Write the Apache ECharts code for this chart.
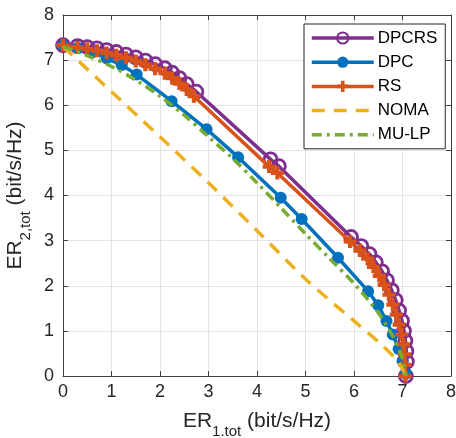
<!DOCTYPE html>
<html>
<head>
<meta charset="utf-8">
<script src="https://cdn.jsdelivr.net/npm/echarts@6/dist/echarts.min.js"></script>
<style>
html,body{margin:0;padding:0;background:#fff;}
#c{width:456px;height:438px;}
</style>
</head>
<body>
<div id="c"></div>
<script>
const seriesNames = ['DPCRS', 'DPC', 'RS', 'NOMA', 'MU-LP'];
const axisTicks = [0, 1, 2, 3, 4, 5, 6, 7, 8];

const dpcrsX = [0, 0.3, 0.5, 0.7, 0.9, 1.1, 1.3, 1.5, 1.7, 1.9, 2.1, 2.25, 2.4, 2.55, 2.75,
  4.28, 4.45,
  5.94, 6.15, 6.32, 6.45, 6.58, 6.68, 6.78, 6.86, 6.93, 6.99, 7.03, 7.06, 7.08, 7.09, 7.07];
const dpcrsY = [7.33, 7.31, 7.29, 7.26, 7.22, 7.18, 7.12, 7.06, 6.99, 6.91, 6.82, 6.72, 6.6, 6.47, 6.3,
  4.8, 4.65,
  3.08, 2.88, 2.7, 2.52, 2.32, 2.12, 1.9, 1.68, 1.45, 1.22, 1.0, 0.78, 0.55, 0.32, 0];

const dpcX = [0, 0.3, 0.6, 0.9, 1.21, 1.52, 2.24, 2.96, 3.61, 4.49, 4.92, 5.67, 6.29, 6.5, 6.67, 6.8, 6.92, 7.0, 7.07];
const dpcY = [7.33, 7.27, 7.17, 7.04, 6.89, 6.68, 6.09, 5.47, 4.85, 3.95, 3.48, 2.62, 1.88, 1.57, 1.22, 0.92, 0.6, 0.33, 0.05];

const rsX = [0, 0.3, 0.5, 0.7, 0.9, 1.1, 1.3, 1.5, 1.7, 1.9, 2.1, 2.25, 2.4, 2.55, 2.7,
  4.25, 4.42,
  5.92, 6.12, 6.28, 6.4, 6.52, 6.62, 6.72, 6.8, 6.87, 6.93, 6.98, 7.02, 7.04, 7.05, 7.06];
const rsY = [7.33, 7.28, 7.25, 7.21, 7.16, 7.11, 7.05, 6.98, 6.9, 6.81, 6.71, 6.6, 6.48, 6.35, 6.2,
  4.64, 4.5,
  2.98, 2.78, 2.6, 2.42, 2.22, 2.02, 1.8, 1.58, 1.36, 1.14, 0.92, 0.7, 0.48, 0.25, 0];

const nomaX = [0, 1, 2, 3, 4, 5, 6, 6.5, 6.9, 7.07];
const nomaY = [7.3, 6.3, 5.3, 4.28, 3.22, 2.15, 1.22, 0.76, 0.33, 0];

const mulpX = [0, 0.5, 1, 1.5, 2, 2.5, 3, 3.5, 4, 4.5, 5, 5.5, 6, 6.5, 6.8, 7.0, 7.07];
const mulpY = [7.3, 7.1, 6.86, 6.56, 6.2, 5.78, 5.3, 4.82, 4.28, 3.72, 3.15, 2.6, 2.05, 1.4, 0.88, 0.38, 0];

const colors = ['#7E2F8E', '#0072BD', '#D95319', '#EDB120', '#77AC30'];
const FONT = '"Liberation Sans", Arial, Helvetica, sans-serif';
const TXT = '#262626';
const plusPath = 'path://M3.4,0H6.6V3.4H10V6.6H6.6V10H3.4V6.6H0V3.4H3.4Z';
const LW = 3.5;

function zip(xs, ys) { return xs.map((x, i) => [x, ys[i]]); }

const chart = echarts.init(document.getElementById('c'), null, {renderer: 'canvas'});

const axisCommon = {
  min: axisTicks[0], max: axisTicks[axisTicks.length - 1], interval: 1,
  axisLine: {show: true, onZero: false, lineStyle: {color: '#404040', width: 1}},
  axisTick: {show: true, inside: true, length: 5, lineStyle: {color: '#404040', width: 1}},
};

const richName = {
  a: {fontFamily: FONT, fontSize: 21, color: TXT, verticalAlign: 'top', lineHeight: 24},
  b: {fontFamily: FONT, fontSize: 15, color: TXT, verticalAlign: 'top', lineHeight: 18, padding: [13, 0, 0, 0]}
};

const option = {
  animation: false,
  backgroundColor: '#fff',
  grid: {left: 63, right: 5, top: 15, bottom: 62, containLabel: false, outerBoundsMode: 'none'},
  legend: {
    orient: 'vertical',
    left: 304, top: 24,
    data: [
      {name: seriesNames[0], lineStyle: {width: LW}},
      {name: seriesNames[1], lineStyle: {width: LW}},
      {name: seriesNames[2], lineStyle: {width: LW}},
      {name: seriesNames[3], lineStyle: {width: LW}, itemStyle: {opacity: 0}},
      {name: seriesNames[4], lineStyle: {width: LW}, itemStyle: {opacity: 0}}
    ],
    itemWidth: 62, itemHeight: 14, itemGap: 6.2,
    padding: [5, 6, 5, 6],
    backgroundColor: '#fff',
    borderColor: '#262626', borderWidth: 1,
    textStyle: {fontFamily: FONT, fontSize: 17, color: '#000', lineHeight: 18, padding: [0, 2, 0, -1]}
  },
  xAxis: [
    Object.assign({}, axisCommon, {
      type: 'value', position: 'bottom',
      splitLine: {show: true, lineStyle: {color: '#e3e3e3', width: 1}},
      axisLabel: {show: true, fontFamily: FONT, fontSize: 18, color: TXT, margin: 7},
      name: '{a|ER}{b|1.tot}{a| (bit/s/Hz)}',
      nameLocation: 'middle', nameGap: 35,
      nameTextStyle: {rich: richName}
    }),
    Object.assign({}, axisCommon, {
      type: 'value', position: 'top',
      splitLine: {show: false}, axisLabel: {show: false}
    })
  ],
  yAxis: [
    Object.assign({}, axisCommon, {
      type: 'value', position: 'left',
      splitLine: {show: true, lineStyle: {color: '#e3e3e3', width: 1}},
      axisLabel: {show: true, fontFamily: FONT, fontSize: 18, color: TXT, margin: 9},
      name: '{a|ER}{b|2,tot}{a| (bit/s/Hz)}',
      nameLocation: 'middle', nameGap: 24, nameRotate: 90,
      nameTextStyle: {rich: richName}
    }),
    Object.assign({}, axisCommon, {
      type: 'value', position: 'right',
      splitLine: {show: false}, axisLabel: {show: false}
    })
  ],
  series: [
    {
      name: seriesNames[0], type: 'line', data: zip(dpcrsX, dpcrsY),
      symbol: 'circle', symbolSize: 13,
      itemStyle: {color: 'rgba(255,255,255,0)', borderColor: colors[0], borderWidth: 2.8},
      lineStyle: {color: colors[0], width: LW},
      z: 2
    },
    {
      name: seriesNames[1], type: 'line', data: zip(dpcX, dpcY),
      symbol: 'circle', symbolSize: 12,
      itemStyle: {color: colors[1]},
      lineStyle: {color: colors[1], width: LW},
      z: 3
    },
    {
      name: seriesNames[2], type: 'line', data: zip(rsX, rsY),
      symbol: plusPath, symbolSize: 13,
      itemStyle: {color: colors[2]},
      lineStyle: {color: colors[2], width: LW},
      z: 4
    },
    {
      name: seriesNames[3], type: 'line', data: zip(nomaX, nomaY),
      symbol: 'none', smooth: 0.3,
      itemStyle: {color: colors[3]},
      lineStyle: {color: colors[3], width: LW, type: [13, 9]},
      z: 5
    },
    {
      name: seriesNames[4], type: 'line', data: zip(mulpX, mulpY),
      symbol: 'none', smooth: 0.3,
      itemStyle: {color: colors[4]},
      lineStyle: {color: colors[4], width: LW, type: [10, 5, 3, 5]},
      z: 6
    }
  ]
};
chart.setOption(option);
</script>
</body>
</html>
